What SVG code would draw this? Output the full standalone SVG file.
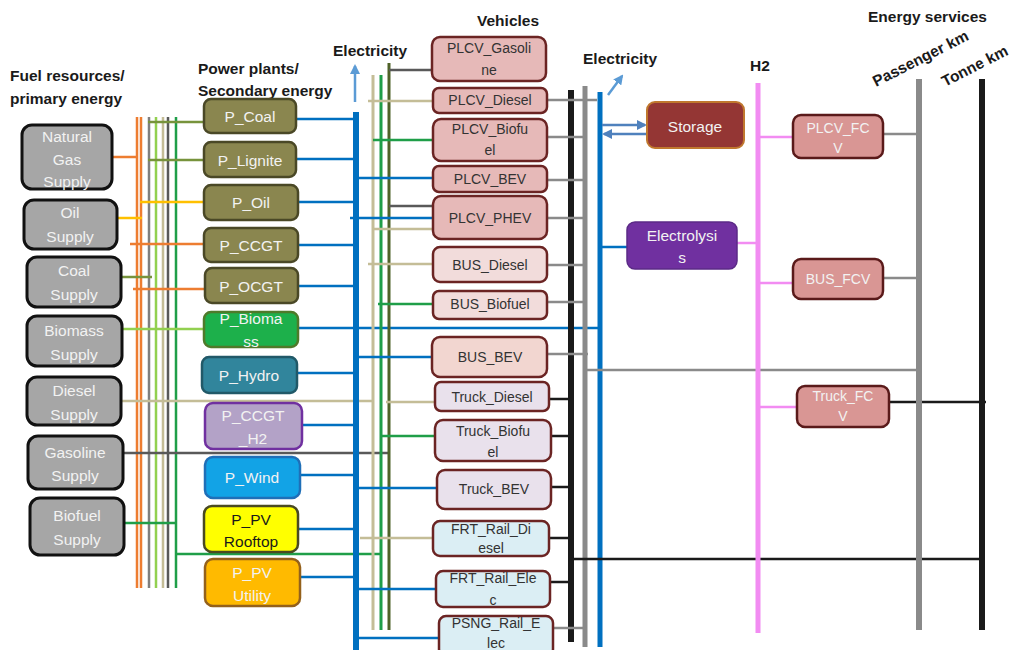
<svg xmlns="http://www.w3.org/2000/svg" width="1009" height="650" viewBox="0 0 1009 650">
<defs>
<style>
.h{font-family:"Liberation Sans",Arial,sans-serif;font-weight:bold;font-size:15.5px;fill:#1a1a1a}
.t{font-family:"Liberation Sans",Arial,sans-serif;font-size:14px;text-anchor:middle;dominant-baseline:central}
.big{font-size:15.5px}
.tw{fill:#f2f2f2}
.td{fill:#333333}
.sup{fill:#a6a6a6;stroke:#111;stroke-width:3}
.pp{fill:#8a864f;stroke:#4a4826;stroke-width:2.5}
.veh{stroke:#6b2423;stroke-width:2.5}
.fcv{fill:#d99694;stroke:#5a1a1a;stroke-width:2.5}
line{fill:none;stroke-width:2.5}
.or{stroke:#ed7d31}.gy{stroke:#7f7f7f}.lg{stroke:#92d050}.tn{stroke:#c4bd97}.dg{stroke:#595959}.gr{stroke:#1f9e48}
.ol{stroke:#77933c}.yl{stroke:#ffc000}.bl{stroke:#0070c0}.dol{stroke:#4f6228}.bk{stroke:#1a1a1a}.pk{stroke:#f28cf2}.mg{stroke:#8a8a8a}
</style>
<marker id="ah" viewBox="0 0 10 10" refX="8" refY="5" markerWidth="4" markerHeight="4" orient="auto"><path d="M0,0L10,5L0,10z" fill="#5b9bd5"/></marker>
<marker id="ah2" viewBox="0 0 10 10" refX="8" refY="5" markerWidth="4" markerHeight="4" orient="auto"><path d="M0,0L10,5L0,10z" fill="#4f81bd"/></marker>
</defs>
<rect width="1009" height="650" fill="#ffffff"/>

<g id="labels">
<text class="h" x="10" y="81">Fuel resources/</text>
<text class="h" x="10" y="104">primary energy</text>
<text class="h" x="198" y="74">Power plants/</text>
<text class="h" x="198" y="96">Secondary energy</text>
<text class="h" x="477" y="26">Vehicles</text>
<text class="h" x="333" y="56">Electricity</text>
<text class="h" x="583" y="64">Electricity</text>
<text class="h" x="750" y="71">H2</text>
<text class="h" x="868" y="22">Energy services</text>
<text class="h" transform="translate(876,87) rotate(-27)">Passenger km</text>
<text class="h" transform="translate(945,87) rotate(-27)">Tonne km</text>
</g>

<g id="connectors">
<line class="or" x1="137" y1="117" x2="137" y2="588"/>
<line class="or" x1="141" y1="117" x2="141" y2="588"/>
<line class="gy" x1="149" y1="117" x2="149" y2="588"/>
<line class="lg" x1="156" y1="117" x2="156" y2="588"/>
<line class="tn" x1="163" y1="117" x2="163" y2="588"/>
<line class="dg" x1="168" y1="117" x2="168" y2="588"/>
<line class="gr" x1="176" y1="117" x2="176" y2="588"/>
<line class="or" x1="112" y1="157" x2="137" y2="157"/>
<line class="yl" x1="117" y1="218" x2="142" y2="218"/>
<line class="ol" x1="121" y1="277" x2="152" y2="277"/>
<line class="lg" x1="122" y1="329" x2="204" y2="329"/>
<line class="tn" x1="121" y1="401" x2="373" y2="401"/>
<line class="dg" x1="123" y1="453" x2="389" y2="453"/>
<line class="gr" x1="124" y1="523" x2="176" y2="523"/>
<line class="gr" x1="176" y1="554" x2="381" y2="554"/>
<line class="ol" x1="148" y1="122" x2="204" y2="122"/>
<line class="ol" x1="148" y1="160" x2="204" y2="160"/>
<line class="yl" x1="140" y1="202" x2="204" y2="202"/>
<line class="or" x1="130" y1="244" x2="204" y2="244"/>
<line class="or" x1="133" y1="289" x2="205" y2="289"/>
<line class="bl" x1="296" y1="119" x2="356" y2="119"/>
<line class="bl" x1="296" y1="159" x2="356" y2="159"/>
<line class="bl" x1="298" y1="202" x2="356" y2="202"/>
<line class="bl" x1="298" y1="245" x2="356" y2="245"/>
<line class="bl" x1="298" y1="286" x2="356" y2="286"/>
<line class="bl" x1="298" y1="328" x2="600" y2="328"/>
<line class="bl" x1="297" y1="373" x2="356" y2="373"/>
<line class="bl" x1="302" y1="425" x2="356" y2="425"/>
<line class="bl" x1="300" y1="475" x2="356" y2="475"/>
<line class="bl" x1="298" y1="529" x2="356" y2="529"/>
<line class="bl" x1="300" y1="577" x2="356" y2="577"/>
<line class="bl" x1="356" y1="112" x2="356" y2="650" style="stroke-width:6"/>
<line x1="355" y1="102" x2="355" y2="66" stroke="#5b9bd5" marker-end="url(#ah)"/>
<line class="tn" x1="373" y1="75" x2="373" y2="630" style="stroke-width:3"/>
<line class="gr" x1="381" y1="75" x2="381" y2="630" style="stroke-width:3"/>
<line class="dol" x1="389" y1="63" x2="389" y2="630" style="stroke-width:3"/>
<line class="dg" x1="389" y1="70" x2="432" y2="70"/>
<line class="tn" x1="368" y1="101" x2="433" y2="101"/>
<line class="gr" x1="373" y1="140" x2="433" y2="140"/>
<line class="bl" x1="356" y1="178" x2="433" y2="178"/>
<line class="dg" x1="389" y1="206" x2="433" y2="206"/>
<line class="bl" x1="350" y1="218" x2="433" y2="218"/>
<line class="tn" x1="372" y1="229" x2="433" y2="229"/>
<line class="tn" x1="368" y1="264" x2="433" y2="264"/>
<line class="gr" x1="378" y1="304" x2="433" y2="304"/>
<line class="bl" x1="356" y1="357" x2="432" y2="357"/>
<line class="tn" x1="386" y1="402" x2="435" y2="402"/>
<line class="gr" x1="380" y1="436" x2="435" y2="436"/>
<line class="bl" x1="356" y1="488" x2="437" y2="488"/>
<line class="tn" x1="360" y1="538" x2="433" y2="538"/>
<line class="bl" x1="356" y1="589" x2="436" y2="589"/>
<line class="bl" x1="356" y1="638" x2="439" y2="638"/>
<line class="bk" x1="571" y1="90" x2="571" y2="642" style="stroke-width:6"/>
<line class="mg" x1="585" y1="86" x2="585" y2="647" style="stroke-width:5"/>
<line class="bl" x1="600" y1="92" x2="600" y2="647" style="stroke-width:5"/>
<line x1="608" y1="95" x2="622" y2="76" stroke="#5b9bd5" marker-end="url(#ah)"/>
<line class="mg" x1="547" y1="100" x2="597" y2="100"/>
<line class="mg" x1="547" y1="137" x2="587" y2="137"/>
<line class="mg" x1="547" y1="180" x2="587" y2="180"/>
<line class="mg" x1="547" y1="218" x2="587" y2="218"/>
<line class="mg" x1="547" y1="265" x2="587" y2="265"/>
<line class="mg" x1="547" y1="302" x2="587" y2="302"/>
<line class="mg" x1="547" y1="354" x2="588" y2="354"/>
<line class="bk" x1="549" y1="399" x2="571" y2="399"/>
<line class="bk" x1="551" y1="436" x2="571" y2="436"/>
<line class="bk" x1="551" y1="487" x2="571" y2="487"/>
<line class="bk" x1="549" y1="538" x2="571" y2="538"/>
<line class="bk" x1="550" y1="582" x2="571" y2="582"/>
<line class="mg" x1="553" y1="628" x2="585" y2="628"/>
<line class="mg" x1="585" y1="370" x2="919" y2="370"/>
<line class="bk" x1="571" y1="559" x2="982" y2="559"/>
<line x1="602" y1="125" x2="645" y2="125" stroke="#4f81bd" stroke-width="2" marker-end="url(#ah2)"/>
<line x1="647" y1="134" x2="604" y2="134" stroke="#4f81bd" stroke-width="2" marker-end="url(#ah2)"/>
<line class="bl" x1="600" y1="247" x2="627" y2="247"/>
<line class="pk" x1="758" y1="83" x2="758" y2="633" style="stroke-width:5"/>
<line class="pk" x1="737" y1="243" x2="758" y2="243"/>
<line class="pk" x1="758" y1="137" x2="793" y2="137"/>
<line class="pk" x1="758" y1="283" x2="793" y2="283"/>
<line class="pk" x1="758" y1="407" x2="797" y2="407"/>
<line class="mg" x1="883" y1="134" x2="919" y2="134"/>
<line class="mg" x1="883" y1="278" x2="919" y2="278"/>
<line class="bk" x1="889" y1="402" x2="986" y2="402"/>
<line class="mg" x1="919" y1="79" x2="919" y2="630" style="stroke-width:6"/>
<line class="bk" x1="982" y1="79" x2="982" y2="630" style="stroke-width:6"/>
</g>

<g id="natural-gas-supply"><rect class="sup" x="22" y="125" width="90" height="64" rx="10"/><text class="t tw big" x="67" y="136">Natural</text><text class="t tw big" x="67" y="159">Gas</text><text class="t tw big" x="67" y="181">Supply</text></g>
<g id="oil-supply"><rect class="sup" x="24" y="200" width="93" height="49" rx="10"/><text class="t tw big" x="70" y="212">Oil</text><text class="t tw big" x="70" y="236">Supply</text></g>
<g id="coal-supply"><rect class="sup" x="27" y="257" width="94" height="50" rx="10"/><text class="t tw big" x="74" y="270">Coal</text><text class="t tw big" x="74" y="294">Supply</text></g>
<g id="biomass-supply"><rect class="sup" x="27" y="316" width="95" height="50" rx="10"/><text class="t tw big" x="74" y="330">Biomass</text><text class="t tw big" x="74" y="354">Supply</text></g>
<g id="diesel-supply"><rect class="sup" x="27" y="377" width="94" height="48" rx="10"/><text class="t tw big" x="74" y="390">Diesel</text><text class="t tw big" x="74" y="414">Supply</text></g>
<g id="gasoline-supply"><rect class="sup" x="28" y="436" width="95" height="53" rx="10"/><text class="t tw big" x="75" y="452">Gasoline</text><text class="t tw big" x="75" y="475">Supply</text></g>
<g id="biofuel-supply"><rect class="sup" x="30" y="498" width="94" height="57" rx="10"/><text class="t tw big" x="77" y="515">Biofuel</text><text class="t tw big" x="77" y="539">Supply</text></g>

<g id="p-coal"><rect class="pp" x="204" y="99" width="92" height="34" rx="7"/><text class="t tw big" x="250" y="116">P_Coal</text></g>
<g id="p-lignite"><rect class="pp" x="204" y="142" width="92" height="35" rx="7"/><text class="t tw big" x="250" y="160">P_Lignite</text></g>
<g id="p-oil"><rect class="pp" x="204" y="185" width="94" height="35" rx="7"/><text class="t tw big" x="251" y="202">P_Oil</text></g>
<g id="p-ccgt"><rect class="pp" x="204" y="228" width="94" height="34" rx="7"/><text class="t tw big" x="251" y="245">P_CCGT</text></g>
<g id="p-ocgt"><rect class="pp" x="205" y="268" width="93" height="35" rx="7"/><text class="t tw big" x="251" y="286">P_OCGT</text></g>
<g id="p-biomass"><rect x="204" y="312" width="94" height="35" rx="7" fill="#1db04b" stroke="#4f7a2a" stroke-width="2.5"/><text class="t tw big" x="251" y="318">P_Bioma</text><text class="t tw big" x="251" y="341">ss</text></g>
<g id="p-hydro"><rect x="202" y="357" width="95" height="36" rx="7" fill="#31859c" stroke="#215968" stroke-width="2.5"/><text class="t tw big" x="249" y="375">P_Hydro</text></g>
<g id="p-ccgt-h2"><rect x="205" y="403" width="97" height="46" rx="8" fill="#b3a2c7" stroke="#7030a0" stroke-width="2.5"/><text class="t tw big" x="253" y="415">P_CCGT</text><text class="t tw big" x="253" y="438">_H2</text></g>
<g id="p-wind"><rect x="205" y="457" width="95" height="41" rx="8" fill="#12a3e6" stroke="#1f6fb8" stroke-width="2.5"/><text class="t tw big" x="252" y="477">P_Wind</text></g>
<g id="p-pv-rooftop"><rect x="204" y="506" width="94" height="46" rx="8" fill="#ffff00" stroke="#4a4a22" stroke-width="2.5"/><text class="t big" x="251" y="519" fill="#1a1a1a">P_PV</text><text class="t big" x="251" y="541" fill="#1a1a1a">Rooftop</text></g>
<g id="p-pv-utility"><rect x="205" y="559" width="95" height="47" rx="8" fill="#ffba00" stroke="#94611b" stroke-width="2.5"/><text class="t tw big" x="252" y="572">P_PV</text><text class="t tw big" x="252" y="595">Utility</text></g>

<g id="plcv-gasoline"><rect class="veh" x="432" y="37" width="114" height="44" rx="8" fill="#e6b9b8"/><text class="t td" x="489" y="48">PLCV_Gasoli</text><text class="t td" x="489" y="70">ne</text></g>
<g id="plcv-diesel"><rect class="veh" x="433" y="88" width="114" height="25" rx="6" fill="#e6b9b8"/><text class="t td" x="490" y="100">PLCV_Diesel</text></g>
<g id="plcv-biofuel"><rect class="veh" x="433" y="119" width="114" height="42" rx="8" fill="#e6b9b8"/><text class="t td" x="490" y="129">PLCV_Biofu</text><text class="t td" x="490" y="150">el</text></g>
<g id="plcv-bev"><rect class="veh" x="433" y="166" width="114" height="26" rx="6" fill="#e6b9b8"/><text class="t td" x="490" y="179">PLCV_BEV</text></g>
<g id="plcv-phev"><rect class="veh" x="433" y="196" width="114" height="43" rx="8" fill="#e6b9b8"/><text class="t td" x="490" y="218">PLCV_PHEV</text></g>
<g id="bus-diesel"><rect class="veh" x="433" y="247" width="114" height="35" rx="7" fill="#f2dcdb"/><text class="t td" x="490" y="265">BUS_Diesel</text></g>
<g id="bus-biofuel"><rect class="veh" x="433" y="291" width="114" height="28" rx="6" fill="#f2dcdb"/><text class="t td" x="490" y="304">BUS_Biofuel</text></g>
<g id="bus-bev"><rect class="veh" x="432" y="337" width="115" height="40" rx="8" fill="#f2d6d0"/><text class="t td" x="490" y="357">BUS_BEV</text></g>
<g id="truck-diesel"><rect class="veh" x="435" y="382" width="114" height="29" rx="6" fill="#e9e1ec"/><text class="t td" x="492" y="397">Truck_Diesel</text></g>
<g id="truck-biofuel"><rect class="veh" x="435" y="420" width="116" height="41" rx="8" fill="#e9e1ec"/><text class="t td" x="493" y="431">Truck_Biofu</text><text class="t td" x="493" y="452">el</text></g>
<g id="truck-bev"><rect class="veh" x="437" y="470" width="114" height="39" rx="8" fill="#e9e1ec"/><text class="t td" x="494" y="489">Truck_BEV</text></g>
<g id="frt-rail-diesel"><rect class="veh" x="433" y="521" width="116" height="35" rx="7" fill="#dbeef4"/><text class="t td" x="491" y="529">FRT_Rail_Di</text><text class="t td" x="491" y="548">esel</text></g>
<g id="frt-rail-elec"><rect class="veh" x="436" y="571" width="114" height="36" rx="7" fill="#dbeef4"/><text class="t td" x="493" y="578">FRT_Rail_Ele</text><text class="t td" x="493" y="600">c</text></g>
<g id="psng-rail-elec"><rect class="veh" x="439" y="616" width="114" height="40" rx="7" fill="#dbeef4"/><text class="t td" x="496" y="623">PSNG_Rail_E</text><text class="t td" x="496" y="643">lec</text></g>

<g id="storage"><rect x="647" y="102" width="97" height="46" rx="8" fill="#943634" stroke="#c0782e" stroke-width="2"/><text class="t tw big" x="695" y="126">Storage</text></g>
<g id="electrolysis"><rect x="627" y="222" width="110" height="47" rx="8" fill="#7030a0" stroke="#5b2a86" stroke-width="1.5"/><text class="t tw big" x="682" y="235">Electrolysi</text><text class="t tw big" x="682" y="257">s</text></g>
<g id="plcv-fcv"><rect class="fcv" x="793" y="115" width="90" height="43" rx="8"/><text class="t tw" x="838" y="128">PLCV_FC</text><text class="t tw" x="838" y="148">V</text></g>
<g id="bus-fcv"><rect class="fcv" x="793" y="259" width="90" height="40" rx="8"/><text class="t tw" x="838" y="279">BUS_FCV</text></g>
<g id="truck-fcv"><rect class="fcv" x="797" y="386" width="92" height="41" rx="8"/><text class="t tw" x="843" y="396">Truck_FC</text><text class="t tw" x="843" y="416">V</text></g>
</svg>
